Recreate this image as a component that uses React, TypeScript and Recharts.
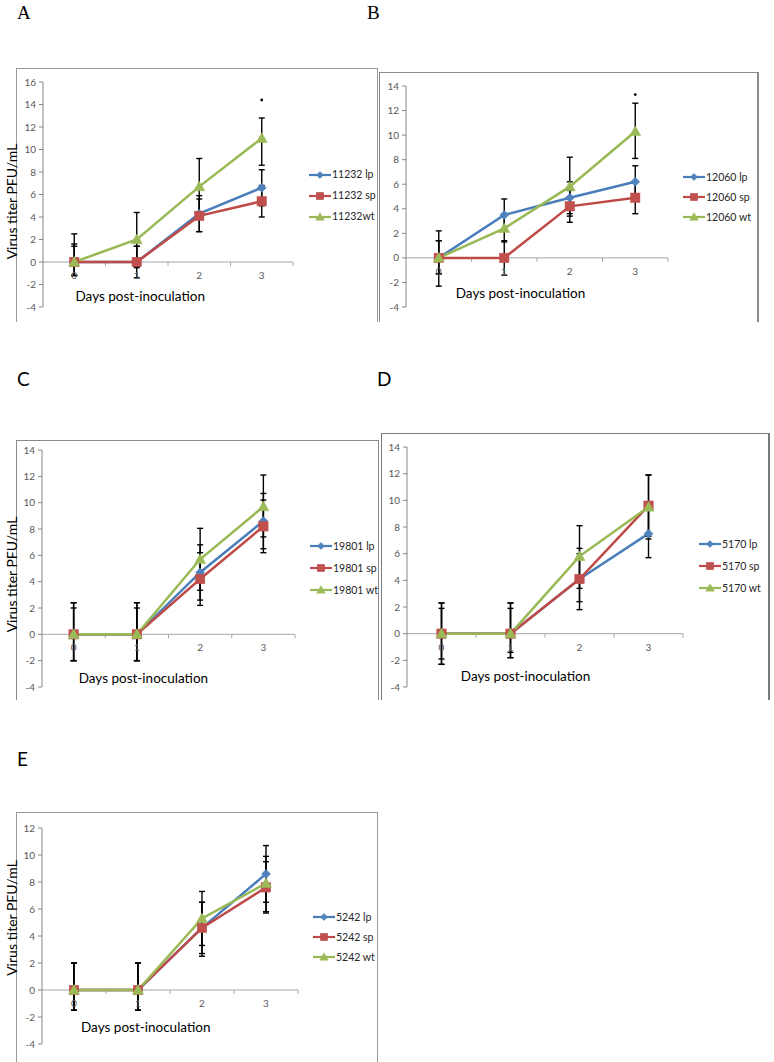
import React from 'react';
import { LineChart, Line, XAxis, YAxis, ErrorBar, ReferenceLine, ReferenceDot, Legend } from 'recharts';

const FONT = "Lato, 'Liberation Sans', Arial, sans-serif";

const days = [0, 1, 2, 3];
const boundaries = [0.5, 1.5, 2.5, 3.5];
const ticks16 = [-4, -2, 0, 2, 4, 6, 8, 10, 12, 14, 16];
const ticks14 = [-4, -2, 0, 2, 4, 6, 8, 10, 12, 14];
const ticks12 = [-4, -2, 0, 2, 4, 6, 8, 10, 12];

// Panel A (11232)
const aNames = ['11232 lp', '11232 sp', '11232wt'];
const aLp = [0, 0, 4.3, 6.6];
const aSp = [0, 0, 4.1, 5.4];
const aWt = [0, 2.0, 6.7, 11.0];
const aLpErr = [[1.2, 1.6], [1.4, 1.4], [1.6, 1.6], [1.6, 1.6]];
const aSpErr = [[1.2, 1.4], [0.5, 1.4], [1.4, 1.5], [1.4, 1.4]];
const aWtErr = [[1.2, 2.5], [2.4, 2.4], [2.5, 2.5], [2.4, 1.8]];

// Panel B (12060)
const bNames = ['12060 lp', '12060 sp', '12060 wt'];
const bLp = [0, 3.5, 4.9, 6.2];
const bSp = [0, 0, 4.2, 4.9];
const bWt = [0, 2.4, 5.8, 10.3];
const bLpErr = [[1.3, 1.4], [1.3, 1.3], [1.3, 1.3], [1.3, 1.3]];
const bSpErr = [[1.3, 1.4], [1.4, 1.4], [1.3, 1.3], [1.3, 1.3]];
const bWtErr = [[2.3, 2.2], [1.1, 1.1], [2.4, 2.4], [2.2, 2.3]];

// Panel C (19801)
const cNames = ['19801 lp', '19801 sp', '19801 wt'];
const cLp = [0, 0, 4.7, 8.6];
const cSp = [0, 0, 4.2, 8.2];
const cWt = [0, 0, 5.7, 9.7];
const cLpErr = [[2.0, 2.0], [2.0, 2.0], [2.1, 2.1], [2.1, 2.1]];
const cSpErr = [[2.0, 2.4], [2.0, 2.4], [2.0, 2.0], [2.0, 2.0]];
const cWtErr = [[2.0, 2.4], [2.0, 2.4], [2.35, 2.35], [2.3, 2.4]];

// Panel D (5170)
const dNames = ['5170 lp', '5170 sp', '5170 wt'];
const dLp = [0, 0, 4.1, 7.5];
const dSp = [0, 0, 4.1, 9.6];
const dWt = [0, 0, 5.8, 9.5];
const dLpErr = [[1.9, 1.9], [1.4, 1.9], [2.3, 2.3], [1.8, 1.8]];
const dSpErr = [[2.3, 2.3], [1.8, 2.3], [1.7, 1.9], [2.3, 2.3]];
const dWtErr = [[2.3, 2.3], [1.8, 2.3], [2.4, 2.3], [2.4, 2.4]];

// Panel E (5242)
const eNames = ['5242 lp', '5242 sp', '5242 wt'];
const eLp = [0, 0, 4.6, 8.6];
const eSp = [0, 0, 4.6, 7.6];
const eWt = [0, 0, 5.3, 7.9];
const eLpErr = [[1.5, 2.0], [1.5, 2.0], [1.9, 1.9], [2.1, 2.1]];
const eSpErr = [[1.5, 2.0], [1.5, 2.0], [2.1, 1.9], [1.9, 1.9]];
const eWtErr = [[1.5, 2.0], [1.5, 2.0], [2.0, 2.0], [2.1, 2.0]];

const COLORS = {
  lp: { line: '#4A7EBB', fill: '#4F81BD' },
  sp: { line: '#BE4B48', fill: '#C0504D' },
  wt: { line: '#98B954', fill: '#9BBB59' },
};

function buildData(lp: number[], sp: number[], wt: number[], lpE: number[][], spE: number[][], wtE: number[][]) {
  return days.map((d, i) => ({
    day: d,
    lp: lp[i], sp: sp[i], wt: wt[i],
    lpErr: lpE[i], spErr: spE[i], wtErr: wtE[i],
  }));
}

function markerShape(kind: string, cx: number, cy: number, scale: number, key?: any) {
  if (kind === 'lp') {
    const s = 4.5 * scale;
    return <path key={key} d={`M${cx},${cy - s}L${cx + s},${cy}L${cx},${cy + s}L${cx - s},${cy}Z`} fill={COLORS.lp.fill} stroke={COLORS.lp.line} strokeWidth={0.5} />;
  }
  if (kind === 'sp') {
    const s = 4.7 * scale;
    return <rect key={key} x={cx - s} y={cy - s} width={2 * s} height={2 * s} fill={COLORS.sp.fill} stroke={COLORS.sp.line} strokeWidth={0.5} />;
  }
  const s = 5.5 * scale;
  return <path key={key} d={`M${cx},${cy - s}L${cx + s},${cy + s * 0.75}L${cx - s},${cy + s * 0.75}Z`} fill={COLORS.wt.fill} stroke={COLORS.wt.line} strokeWidth={0.5} />;
}

const makeDot = (kind: string) => (props: any) => {
  const { cx, cy, index } = props;
  if (cx == null || cy == null) return <g key={`n-${kind}-${index}`} />;
  return markerShape(kind, cx, cy, 1, `d-${kind}-${index}`);
};

const makeLegend = (rowH: number) => (props: any) => {
  const payload = props.payload || [];
  return (
    <div style={{ fontFamily: FONT, fontSize: 10.5, color: '#262626', lineHeight: 1 }}>
      {payload.map((entry: any) => {
        const kind = String(entry.dataKey);
        const c = (COLORS as any)[kind];
        return (
          <div key={kind} style={{ display: 'flex', alignItems: 'center', height: rowH, whiteSpace: 'nowrap' }}>
            <svg width={22} height={12} style={{ display: 'block' }}>
              <line x1={0} y1={6} x2={22} y2={6} stroke={c.line} strokeWidth={2.2} />
              {markerShape(kind, 11, 6, 0.78)}
            </svg>
            <span style={{ marginLeft: 1 }}>{entry.value}</span>
          </div>
        );
      })}
    </div>
  );
};

const YLabelContent = (dy: number) => (props: any) => {
  const vb = props.viewBox || { x: 0, y: 0, width: 0, height: 0 };
  const x = vb.x + 11;
  const y = vb.y + vb.height / 2 + dy;
  return (
    <text
      transform={`translate(${x},${y}) rotate(-90)`}
      textAnchor="middle"
      dominantBaseline="central"
      fontFamily={FONT}
      fontSize={14}
      fill="#000"
    >
      Virus titer PFU/mL
    </text>
  );
};

type PanelCfg = {
  letter: string;
  letterSerif: boolean;
  letterX: number;
  letterY: number;
  frame: { left: number; top: number; right: number; bottom: number; color: string; rightW: number; w: number };
  chart: { left: number; top: number; width: number; height: number; mt: number; mr: number; mb: number };
  yAxisWidth: number;
  yDomain: [number, number];
  yTicks: number[];
  names: string[];
  data: any[];
  legend: { left: number; top: number; rowH: number };
  yLabelDy: number | null;
  daysPos: { x: number; y: number };
  sig?: { x: number; y: number };
  tickLen: number;
};

const panels: PanelCfg[] = [
  {
    letter: 'A', letterSerif: true, letterX: 17, letterY: 3,
    frame: { left: 16, top: 68, right: 378, bottom: 322, color: '#9a9a9a', rightW: 1, w: 1 },
    chart: { left: 0, top: 68, width: 378, height: 252, mt: 14, mr: 85, mb: 13 },
    yAxisWidth: 43, yDomain: [-4, 16], yTicks: ticks16, names: aNames,
    data: buildData(aLp, aSp, aWt, aLpErr, aSpErr, aWtErr),
    legend: { left: 309, top: 96, rowH: 21 },
    yLabelDy: 7, daysPos: { x: 0.02, y: -3.0 }, sig: { x: 3, y: 14.4 }, tickLen: 0.35,
  },
  {
    letter: 'B', letterSerif: true, letterX: 367, letterY: 3,
    frame: { left: 379, top: 72, right: 759, bottom: 322, color: '#8a8a8a', rightW: 2, w: 1 },
    chart: { left: 379, top: 72, width: 379, height: 248, mt: 14, mr: 90, mb: 13 },
    yAxisWidth: 27, yDomain: [-4, 14], yTicks: ticks14, names: bNames,
    data: buildData(bLp, bSp, bWt, bLpErr, bSpErr, bWtErr),
    legend: { left: 304, top: 95, rowH: 20 },
    yLabelDy: null, daysPos: { x: 0.26, y: -2.85 }, sig: { x: 3, y: 13.3 }, tickLen: 0.32,
  },
  {
    letter: 'C', letterSerif: false, letterX: 17, letterY: 369,
    frame: { left: 16, top: 440, right: 379, bottom: 700, color: '#8a8a8a', rightW: 1, w: 1 },
    chart: { left: 0, top: 440, width: 379, height: 258, mt: 10, mr: 84, mb: 11 },
    yAxisWidth: 42, yDomain: [-4, 14], yTicks: ticks14, names: cNames,
    data: buildData(cLp, cSp, cWt, cLpErr, cSpErr, cWtErr),
    legend: { left: 310, top: 95, rowH: 22 },
    yLabelDy: 6, daysPos: { x: 0.08, y: -3.35 }, tickLen: 0.3,
  },
  {
    letter: 'D', letterSerif: false, letterX: 377, letterY: 369,
    frame: { left: 381, top: 433, right: 770, bottom: 700, color: '#7a7a7a', rightW: 2, w: 1 },
    chart: { left: 381, top: 433, width: 389, height: 265, mt: 14, mr: 87, mb: 11 },
    yAxisWidth: 26, yDomain: [-4, 14], yTicks: ticks14, names: dNames,
    data: buildData(dLp, dSp, dWt, dLpErr, dSpErr, dWtErr),
    legend: { left: 318, top: 100, rowH: 22 },
    yLabelDy: null, daysPos: { x: 0.28, y: -3.2 }, tickLen: 0.3,
  },
  {
    letter: 'E', letterSerif: false, letterX: 17, letterY: 749,
    frame: { left: 16, top: 812, right: 378, bottom: 1070, color: '#9a9a9a', rightW: 1, w: 1 },
    chart: { left: 0, top: 812, width: 378, height: 250, mt: 16, mr: 80, mb: 18 },
    yAxisWidth: 42, yDomain: [-4, 12], yTicks: ticks12, names: eNames,
    data: buildData(eLp, eSp, eWt, eLpErr, eSpErr, eWtErr),
    legend: { left: 313, top: 95, rowH: 20 },
    yLabelDy: -18, daysPos: { x: 0.11, y: -2.75 }, tickLen: 0.3,
  },
];

function Panel({ p }: { p: PanelCfg }) {
  const f = p.frame;
  const kinds = ['lp', 'sp', 'wt'];
  return (
    <>
      <div
        style={{
          position: 'absolute',
          left: p.letterX,
          top: p.letterY,
          fontFamily: p.letterSerif ? "'Liberation Serif', 'DejaVu Serif', serif" : FONT,
          fontSize: 19,
          lineHeight: 1,
          color: '#000',
        }}
      >
        {p.letter}
      </div>
      <div
        style={{
          position: 'absolute',
          left: f.left,
          top: f.top,
          width: f.right - f.left,
          height: f.bottom - f.top,
          borderLeft: `${f.w}px solid ${f.color}`,
          borderTop: `${f.w}px solid ${f.color}`,
          borderRight: `${f.rightW}px solid ${f.color}`,
          boxSizing: 'border-box',
        }}
      />
      <div style={{ position: 'absolute', left: p.chart.left, top: p.chart.top }}>
        <LineChart
          width={p.chart.width}
          height={p.chart.height}
          data={p.data}
          margin={{ top: p.chart.mt, right: p.chart.mr, bottom: p.chart.mb, left: 0 }}
        >
          <XAxis dataKey="day" type="number" domain={[-0.5, 3.5]} hide allowDataOverflow />
          <YAxis
            type="number"
            domain={p.yDomain}
            ticks={p.yTicks}
            interval={0}
            width={p.yAxisWidth}
            allowDataOverflow
            axisLine={{ stroke: '#868686' }}
            tickLine={{ stroke: '#868686' }}
            tickSize={4}
            tickMargin={3}
            tick={{ fontSize: 10, fill: '#595959', fontFamily: FONT }}
            label={p.yLabelDy === null ? undefined : { value: 'Virus titer PFU/mL', content: YLabelContent(p.yLabelDy) }}
          />
          <ReferenceLine y={0} stroke="#a6a6a6" strokeWidth={1} />
          {boundaries.map((b) => (
            <ReferenceLine
              key={`b-${b}`}
              segment={[{ x: b, y: 0 }, { x: b, y: -p.tickLen }]}
              stroke="#a6a6a6"
              strokeWidth={1}
            />
          ))}
          {days.map((d) => (
            <ReferenceDot
              key={`t-${d}`}
              x={d}
              y={0}
              r={0}
              fill="none"
              stroke="none"
              label={{ value: String(d), position: 'bottom', offset: 10, fontSize: 10, fill: '#595959', fontFamily: FONT }}
            />
          ))}
          <ReferenceDot
            x={p.daysPos.x}
            y={p.daysPos.y}
            r={0}
            fill="none"
            stroke="none"
            label={{ value: 'Days post-inoculation', position: 'right', offset: 0, fontSize: 13.5, fill: '#000', fontFamily: FONT }}
          />
          {kinds.map((k, i) => (
            <Line
              key={k}
              type="linear"
              dataKey={k}
              name={p.names[i]}
              stroke={(COLORS as any)[k].line}
              strokeWidth={2.5}
              dot={makeDot(k)}
              activeDot={false}
              isAnimationActive={false}
            >
              <ErrorBar dataKey={`${k}Err`} direction="y" width={3} stroke="#000" strokeWidth={1.4} isAnimationActive={false} />
            </Line>
          ))}
          {p.sig && <ReferenceDot x={p.sig.x} y={p.sig.y} r={1.4} fill="#000" stroke="none" />}
          <Legend
            layout="vertical"
            align="center"
            verticalAlign="middle"
            wrapperStyle={{ left: p.legend.left, top: p.legend.top, width: 'auto' }}
            content={makeLegend(p.legend.rowH)}
          />
        </LineChart>
      </div>
    </>
  );
}

export default function App() {
  return (
    <div style={{ position: 'absolute', left: 0, top: 0, width: 774, height: 1062, background: '#fff', overflow: 'hidden' }}>
      {panels.map((p) => (
        <Panel key={p.letter} p={p} />
      ))}
    </div>
  );
}
